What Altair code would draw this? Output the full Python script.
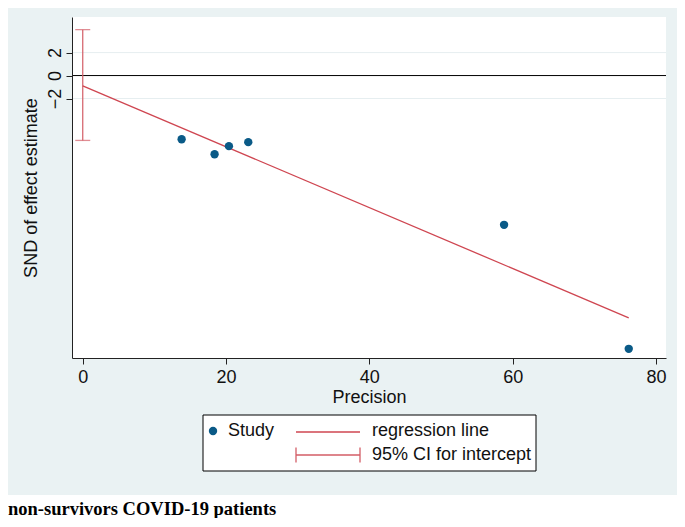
import altair as alt
import pandas as pd

# ---- data ----
precision = [13.8, 18.4, 20.4, 23.1, 58.8, 76.2]
snd = [-5.55, -6.85, -6.15, -5.8, -13.0, -23.8]
reg_precision = [0.0, 76.2]
reg_snd = [-0.9, -21.1]
ci_low, ci_high = -5.65, 4.0
x_ticks = [0, 20, 40, 60, 80]
y_ticks = [-2, 0, 2]
grid_y = [-2, 2]

BLUE_BG = "#eaf2f3"
PT = "#0a5a87"
RED = "#cf4651"
RED_CI = "#d35d66"
FONT = "Liberation Sans"
FS = 18

W, H = 594, 341
xs = alt.Scale(domain=[-1.5, 81.4], nice=False, zero=False)
ys = alt.Scale(domain=[-24.6, 5.1], nice=False, zero=False)

pts = pd.DataFrame({"precision": precision, "snd": snd})
reg = pd.DataFrame({"precision": reg_precision, "snd": reg_snd})
ci = pd.DataFrame({"precision": [0.0], "lo": [ci_low], "hi": [ci_high]})
cap = pd.DataFrame({"precision": [0.0, 0.0], "snd": [ci_low, ci_high]})
grid = pd.DataFrame({"snd": grid_y})
zero = pd.DataFrame({"snd": [0.0]})
one = pd.DataFrame({"k": [0]})

x_axis = alt.Axis(values=x_ticks, title="Precision", grid=False, tickSize=6,
                  labelFontSize=FS, labelFont=FONT, titleFont=FONT, titleFontSize=FS,
                  titleFontWeight="normal", domainColor="#222222", tickColor="#222222",
                  labelColor="#111111", titleColor="#111111", labelPadding=4,
                  titleY=39, titleBaseline="middle", labelFlush=False,
                  labelOverlap=False, zindex=1)
y_axis = alt.Axis(values=y_ticks, title="SND of effect estimate", grid=False, tickSize=6,
                  labelAngle=270, labelAlign="center", labelBaseline="alphabetic",
                  labelPadding=6, labelFontSize=FS, labelFont=FONT, titleFont=FONT,
                  titleFontSize=FS, titleFontWeight="normal", domainColor="#222222",
                  tickColor="#222222", labelColor="#111111", titleColor="#111111",
                  titleX=-41, titleBaseline="middle", labelOverlap=False, zindex=1)

# white area under the graph region (caption zone)
cap_bg = alt.Chart(one).mark_rect(color="white").encode(
    x=alt.value(-80), x2=alt.value(700), y=alt.value(478), y2=alt.value(600))

gridlines = alt.Chart(grid).mark_rule(color="#e6eef0", strokeWidth=1).encode(
    y=alt.Y("snd:Q", scale=ys, axis=y_axis))
zeroline = alt.Chart(zero).mark_rule(color="black", strokeWidth=1).encode(
    y=alt.Y("snd:Q", scale=ys))

ci_rule = alt.Chart(ci).mark_rule(color=RED_CI, strokeWidth=1.2).encode(
    x=alt.X("precision:Q", scale=xs, axis=x_axis),
    y=alt.Y("lo:Q", scale=ys), y2="hi:Q")
ci_caps = alt.Chart(cap).mark_tick(color=RED_CI, orient="horizontal", size=15,
                                   thickness=1.3).encode(
    x=alt.X("precision:Q", scale=xs), y=alt.Y("snd:Q", scale=ys))

reg_line = alt.Chart(reg).mark_line(color=RED, strokeWidth=1.3).encode(
    x=alt.X("precision:Q", scale=xs), y=alt.Y("snd:Q", scale=ys))

points = alt.Chart(pts).mark_circle(color=PT, opacity=1, size=70).encode(
    x=alt.X("precision:Q", scale=xs), y=alt.Y("snd:Q", scale=ys))

# legend (Stata style box)
lg_box = alt.Chart(one).mark_rect(fill="white", stroke="black", strokeWidth=1).encode(
    x=alt.value(131), x2=alt.value(464), y=alt.value(398), y2=alt.value(454))
lg_dot = alt.Chart(one).mark_circle(color=PT, opacity=1, size=70).encode(
    x=alt.value(141), y=alt.value(414))
lg_line = alt.Chart(one).mark_rule(color=RED, strokeWidth=1.3).encode(
    x=alt.value(224), x2=alt.value(288), y=alt.value(415))
lg_ci = alt.Chart(one).mark_rule(color=RED_CI, strokeWidth=1.3).encode(
    x=alt.value(224), x2=alt.value(288), y=alt.value(438))
lg_ci_l = alt.Chart(one).mark_rule(color=RED_CI, strokeWidth=1.3).encode(
    x=alt.value(224), y=alt.value(430.5), y2=alt.value(445.5))
lg_ci_r = alt.Chart(one).mark_rule(color=RED_CI, strokeWidth=1.3).encode(
    x=alt.value(288), y=alt.value(430.5), y2=alt.value(445.5))


def lg_text(label, x, y):
    return alt.Chart(one).mark_text(align="left", baseline="middle", font=FONT,
                                    fontSize=FS, color="#111111").encode(
        x=alt.value(x), y=alt.value(y), text=alt.value(label))


caption = alt.Chart(one).mark_text(align="left", baseline="alphabetic",
                                   font="Liberation Serif", fontWeight="bold",
                                   fontSize=18.5, color="black").encode(
    x=alt.value(-64), y=alt.value(498), text=alt.value("non-survivors COVID-19 patients"))

chart = alt.layer(
    cap_bg, gridlines, zeroline, ci_rule, ci_caps, reg_line, points,
    lg_box, lg_dot, lg_line, lg_ci, lg_ci_l, lg_ci_r,
    lg_text("Study", 156, 414), lg_text("regression line", 300, 414),
    lg_text("95% CI for intercept", 300, 438),
    caption,
).properties(
    width=W, height=H, background=BLUE_BG,
    autosize=alt.AutoSizeParams(type="none"),
    padding={"left": 64, "top": 9, "right": 11, "bottom": 160},
).configure_view(fill="white", stroke=None)

chart.save("out.html", embed_options={"renderer": "svg", "actions": False})
